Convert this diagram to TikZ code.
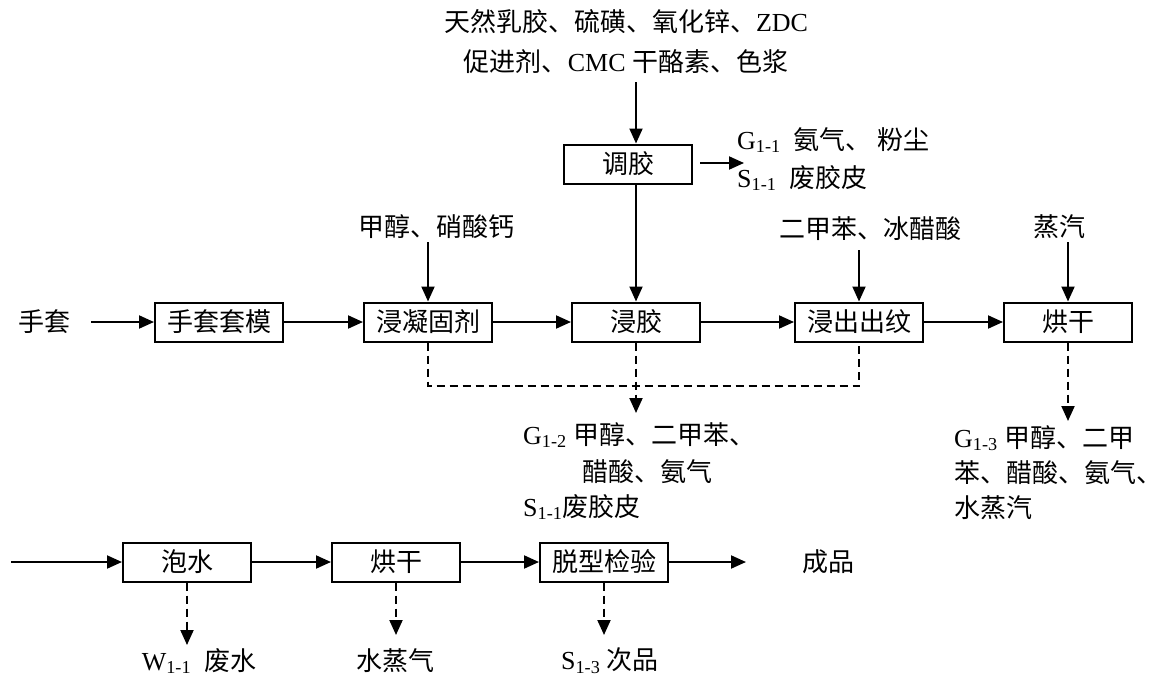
\documentclass[tikz,border=0pt]{standalone}
\usepackage{fontspec}
\setmainfont{Liberation Serif}
\newfontfamily\cjk{Noto Sans CJK SC}
\usetikzlibrary{arrows.meta}
\begin{document}
\begin{tikzpicture}[x=1pt,y=-1pt,
  font=\fontsize{26}{31}\selectfont,
  cj/.style={font=\fontsize{26}{31}\selectfont\cjk},
  box/.style={draw,line width=2pt,minimum width=128pt,minimum height=39pt,inner sep=0pt,cj},
  txt/.style={inner sep=0pt},
  ltxt/.style={inner sep=0pt,anchor=west},
  arr/.style={line width=2pt,-{Triangle[length=15pt,width=13pt]}},
  darr/.style={line width=2pt,dash pattern=on 8pt off 5pt,-{Triangle[length=15pt,width=13pt]}},
  dline/.style={line width=2pt,dash pattern=on 8pt off 5pt}]
\useasboundingbox (0,0) rectangle (1169,680);
\fill[white] (0,0) rectangle (1169,680);
% top inputs
\node[txt] (top1) at (626,22) {{\cjk 天然乳胶、硫磺、氧化锌、}ZDC};
\node[txt] (top2) at (626,62) {{\cjk 促进剂、}CMC {\cjk 干酪素、色浆}};
\node[box] (tiao) at (628,164) {调胶};
% main row
\node[txt,cj] (glove) at (44,322) {手套};
\node[box] (b1) at (219,322) {手套套模};
\node[box] (b2) at (428,322) {浸凝固剂};
\node[box] (b3) at (636,322) {浸胶};
\node[box] (b4) at (859,322) {浸出出纹};
\node[box] (b5) at (1068,322) {烘干};
\node[txt,cj] (in2) at (436,227) {甲醇、硝酸钙};
\node[txt,cj] (in4) at (870,229) {二甲苯、冰醋酸};
\node[txt,cj] (in5) at (1059,227) {蒸汽};
% outputs of tiao
\node[ltxt] (g11) at (737,140) {G\textsubscript{1-1}\ \ {\cjk 氨气、\ 粉尘}};
\node[ltxt] (s11) at (737,178) {S\textsubscript{1-1}\ \ {\cjk 废胶皮}};
% G1-2 block
\node[ltxt] (g12) at (523,435) {G\textsubscript{1-2}\ {\cjk 甲醇、二甲苯、}};
\node[txt,cj] (g12b) at (647,472) {醋酸、氨气};
\node[ltxt] (s12) at (523,507) {S\textsubscript{1-1}{\cjk 废胶皮}};
% G1-3 block
\node[ltxt] (g13) at (954,438) {G\textsubscript{1-3}\ {\cjk 甲醇、二甲}};
\node[ltxt,cj] (g13b) at (954,473) {苯、醋酸、氨气、};
\node[ltxt,cj] (g13c) at (954,508) {水蒸汽};
% bottom row
\coordinate (start) at (11,562);
\node[box] (c1) at (187,562) {泡水};
\node[box] (c2) at (396,562) {烘干};
\node[box] (c3) at (604,562) {脱型检验};
\coordinate (endp) at (746,562);
\node[txt,cj] (prod) at (828,562) {成品};
\node[txt] (w) at (199,661) {W\textsubscript{1-1}\ \ {\cjk 废水}};
\node[txt,cj] (steam) at (395,661) {水蒸气};
\node[txt] (s13) at (610,661) {S\textsubscript{1-3}\ {\cjk 次品}};
% coordinates
\coordinate (tiaoOut) at (700,163);
\coordinate (tiaoEnd) at (744,163);
\coordinate (dy) at (0,386);
% connectors top
\draw[arr] (b3 |- 0,82) -- (b3 |- tiao.north);
\draw[arr] (b3 |- tiao.south) -- (b3.north);
\draw[arr] (tiaoOut) -- (tiaoEnd);
\draw[arr] (b2 |- 0,242) -- (b2.north);
\draw[arr] (b4 |- 0,250) -- (b4.north);
\draw[arr] (b5 |- 0,242) -- (b5.north);
% main row
\draw[arr] (91,322) -- (b1.west);
\draw[arr] (b1.east) -- (b2.west);
\draw[arr] (b2.east) -- (b3.west);
\draw[arr] (b3.east) -- (b4.west);
\draw[arr] (b4.east) -- (b5.west);
% dashed
\draw[dline] (b2.south) -- (b2.south |- dy) -- (b4.south |- dy) -- (b4.south);
\draw[darr] (b3.south) -- (b3.south |- 0,413);
\draw[darr] (b5.south) -- (b5.south |- 0,421);
% bottom row
\draw[arr] (start) -- (c1.west);
\draw[arr] (c1.east) -- (c2.west);
\draw[arr] (c2.east) -- (c3.west);
\draw[arr] (c3.east) -- (endp);
\draw[darr] (c1.south) -- (c1.south |- 0,645);
\draw[darr] (c2.south) -- (c2.south |- 0,635);
\draw[darr] (c3.south) -- (c3.south |- 0,635);
\end{tikzpicture}
\end{document}
